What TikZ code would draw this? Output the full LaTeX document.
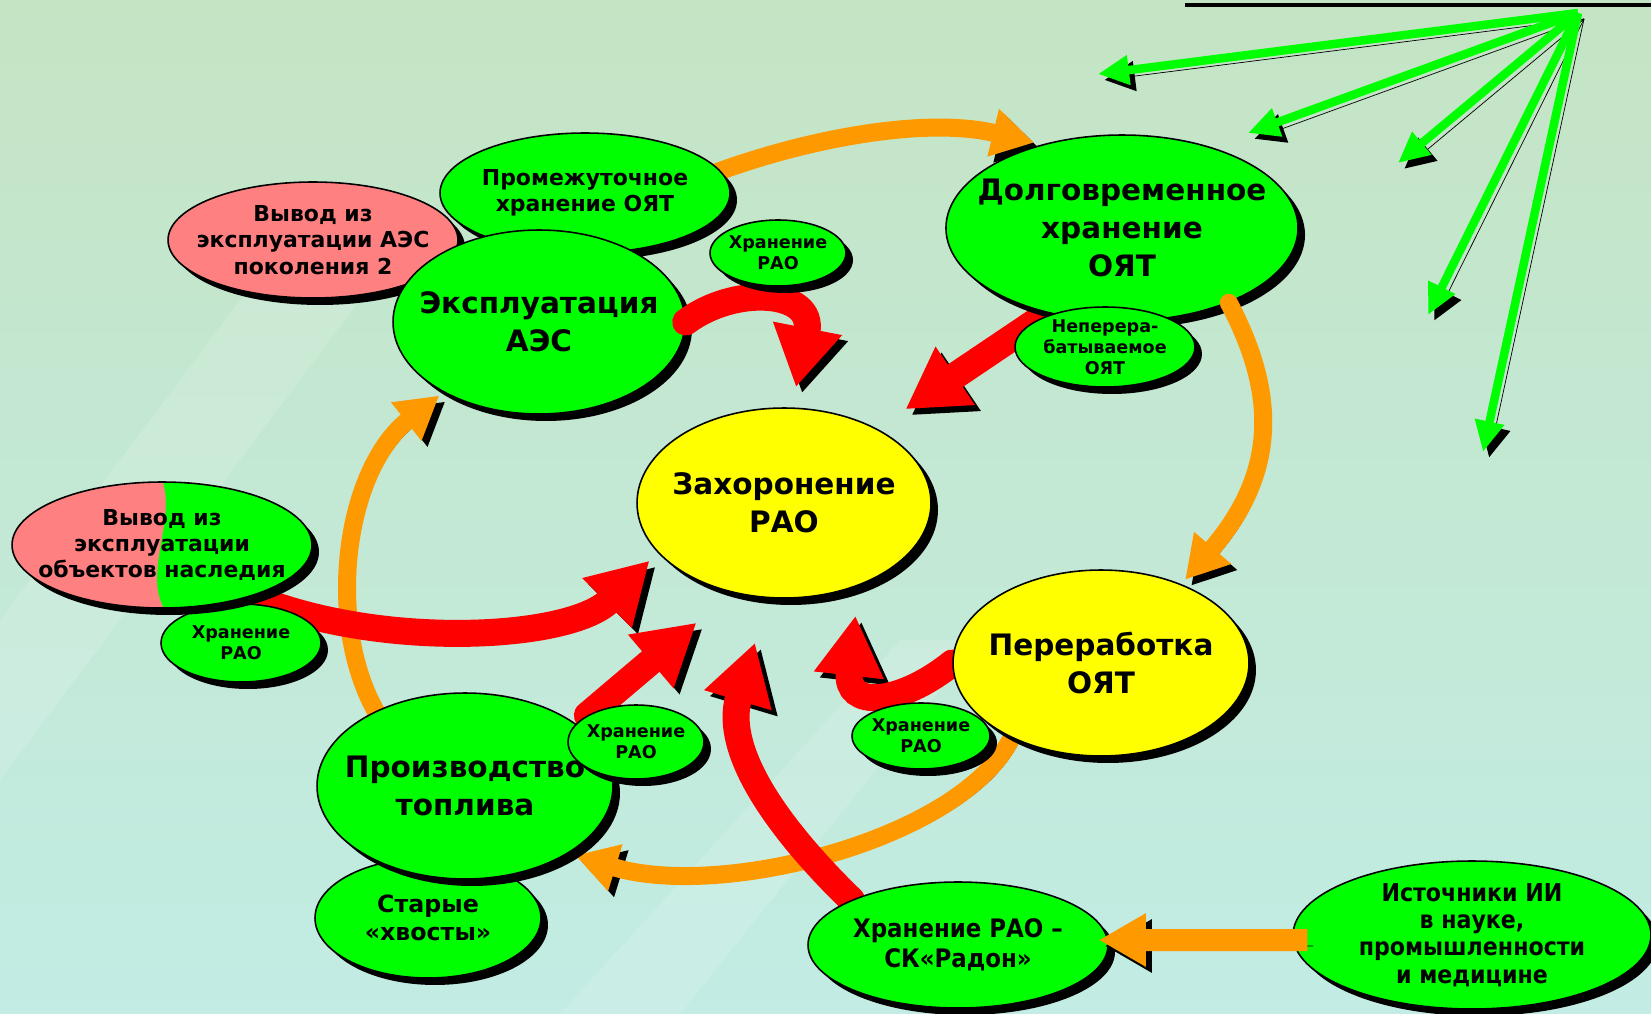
\documentclass[tikz,border=0pt]{standalone}
\usepackage{fontspec}
\setmainfont{DejaVu Sans}
\newfontfamily\condfont{DejaVu Sans Condensed}
\usetikzlibrary{shapes.geometric,arrows.meta,shadows,calc}

\definecolor{grn}{RGB}{0,255,0}
\definecolor{yel}{RGB}{255,255,0}
\definecolor{pnk}{RGB}{255,128,128}
\definecolor{org}{RGB}{255,153,0}
\definecolor{rd}{RGB}{255,0,0}
\definecolor{bgtop}{RGB}{196,228,196}
\definecolor{bgmid}{RGB}{218,244,226}
\definecolor{bgbot}{RGB}{194,236,228}

\pgfdeclarelayer{backdrop}
\pgfdeclarelayer{flow}
\pgfsetlayers{backdrop,flow,main}

\tikzset{
  blob/.style={ellipse, draw=black, line width=0.9pt, fill=grn, inner xsep=-0.4cm, inner ysep=0pt, align=center,
    drop shadow={shadow xshift=0.14cm, shadow yshift=-0.14cm, opacity=1, fill=black}},
  bigtxt/.style={font=\fontsize{16.8}{21.5}\selectfont\bfseries},
  midtxt/.style={font=\fontsize{12.5}{15}\selectfont\bfseries},
  smalltxt/.style={font=\fontsize{10}{12}\selectfont\bfseries},
  condtxt/.style={font=\condfont\bfseries\fontsize{14}{15.5}\selectfont},
  redflow/.style={draw=rd, line width=0.54cm, line cap=round, -{Triangle[width=1.32cm,length=1.2cm]},
    preaction={draw=black, transform canvas={shift={(6,6)}}}},
  orangeflow/.style={draw=org, line width=0.36cm, line cap=round, -{Triangle[width=0.92cm,length=0.84cm]},
    preaction={draw=black, transform canvas={shift={(6,6)}}}},
  greenray/.style={draw=grn, line width=0.17cm, -{Triangle[width=0.56cm,length=0.62cm]},
    preaction={draw=black, transform canvas={shift={(6,6)}}}},
}

\begin{document}
\begin{tikzpicture}[x=0.02cm, y=-0.02cm]
  \useasboundingbox (0,0) rectangle (1651,1014);

  % background
  \begin{pgfonlayer}{backdrop}
    \shade[top color=bgtop, middle color=bgmid, bottom color=bgbot] (0,0) rectangle (1651,1014);
    \fill[white, opacity=0.14] (0,620) -- (300,220) -- (420,220) -- (0,780) -- cycle;
    \fill[white, opacity=0.14] (560,1014) -- (900,640) -- (980,640) -- (680,1014) -- cycle;
    \draw[line width=0.1cm] (1185,5) -- (1651,5);
  \end{pgfonlayer}

  % centre and the cycle
  \node[blob, bigtxt, fill=yel, minimum width=5.88cm, minimum height=3.8cm] (zah) at (784,503) {Захоронение\\РАО};
  \node[blob, smalltxt, minimum width=2.76cm, minimum height=1.32cm] (hran3) at (921,736) {Хранение\\РАО};
  \node[blob, bigtxt, fill=yel, minimum width=5.92cm, minimum height=3.72cm] (per) at (1101,663) {Переработка\\ОЯТ};
  \node[blob, midtxt, fill=pnk, minimum width=5.8cm, minimum height=2.32cm] (vaes) at (313,240) {Вывод из\\эксплуатации АЭС\\поколения 2};
  \node[blob, midtxt, minimum width=5.8cm, minimum height=2.4cm] (prom) at (585,193) {Промежуточное\\хранение ОЯТ};
  \node[blob, bigtxt, minimum width=5.84cm, minimum height=3.68cm] (eks) at (539,322) {Эксплуатация\\АЭС};
  \draw[redflow] (eks.east) .. controls (735,285) and (815,290) .. ($(zah.north)+(12,-20)$);
  \node[blob, smalltxt, minimum width=2.72cm, minimum height=1.32cm] (hran1) at (778,253) {Хранение\\РАО};
  \node[blob, bigtxt, minimum width=7cm, minimum height=3.72cm] (dolg) at (1122,228) {Долговременное\\хранение\\ОЯТ};
  \draw[orangeflow] (dolg.-35) .. controls (1275,390) and (1280,470) .. ($(per.north east)+(-21,-17)$);
  \node[blob, smalltxt, minimum width=3.6cm, minimum height=1.6cm] (nep) at (1105,347) {Неперера-\\батываемое\\ОЯТ};

  % left and bottom
  \node[blob, midtxt, font=\fontsize{13.5}{16}\selectfont\bfseries, minimum width=4.52cm, minimum height=2.4cm] (star) at (428,918) {Старые\\«хвосты»};
  \node[blob, bigtxt, minimum width=5.92cm, minimum height=3.72cm] (proizv) at (465,786) {Производство\\топлива};
  \node[blob, smalltxt, minimum width=2.72cm, minimum height=1.48cm] (hran2) at (636,742) {Хранение\\РАО};
  \node[blob, smalltxt, minimum width=3.2cm, minimum height=1.56cm] (hran4) at (241,643) {Хранение\\РАО};
  \node[blob, midtxt, fill=pnk, minimum width=6cm, minimum height=2.52cm,
    path picture={\fill[grn] ($(path picture bounding box.north)+(1,0)$) .. controls +(12,40) and +(-20,-35) .. ($(path picture bounding box.south)+(2,0)$)
      -- (path picture bounding box.south east) -- (path picture bounding box.north east) -- cycle;}] (vnas) at (162,545) {Вывод из\\эксплуатации\\объектов наследия};
  \node[blob, condtxt, font=\condfont\bfseries\fontsize{14.5}{17}\selectfont, minimum width=6cm, minimum height=2.52cm] (radon) at (958,945) {Хранение РАО –\\СК«Радон»};
  \node[blob, condtxt, minimum width=7.16cm, minimum height=2.96cm] (ist) at (1472,935) {Источники ИИ\\в науке,\\промышленности\\и медицине};
  \draw[orangeflow, line width=0.44cm, line cap=butt, -{Triangle[width=1cm,length=0.94cm]}] ([xshift=0.3cm,yshift=-0.1cm]ist.west) -- ($(radon.east)+(-10,-5)$);

  % arrows under the nodes
  \begin{pgfonlayer}{flow}
    \coordinate (apex) at (1578,13);
    \foreach \tx/\ty in {1098/74, 1248/133, 1398/163, 1428/315, 1483/452}
      \draw[greenray] (apex) -- (\tx,\ty);
    % orange cycle
    \draw[orangeflow] (eks.60) .. controls (700,160) and (900,110) .. ($(dolg.north west)+(37,-19)$);
    \draw[orangeflow] (per.-140) .. controls (960,840) and (720,900) .. ($(proizv.south east)+(5,3)$);
    \draw[orangeflow] (proizv.140) .. controls (325,620) and (345,470) .. ($(eks.south west)+(4,8)$);
    % red flows into the centre
    \draw[redflow] (nep.north west) -- ($(zah.north east)+(17,-26)$);
    \draw[redflow] (vnas.-30) .. controls (380,650) and (570,640) .. ($(zah.south west)+(-30,-10)$);
    \draw[redflow] (hran2.north west) -- ($(zah.south west)+(17,52)$);
    \draw[redflow] (radon.north west) .. controls (800,850) and (720,760) .. ($(zah.south)+(-29,44)$);
    \draw[redflow] (per.west) .. controls (900,705) and (845,710) .. ($(zah.south east)+(-33,45)$);
  \end{pgfonlayer}
\end{tikzpicture}
\end{document}
